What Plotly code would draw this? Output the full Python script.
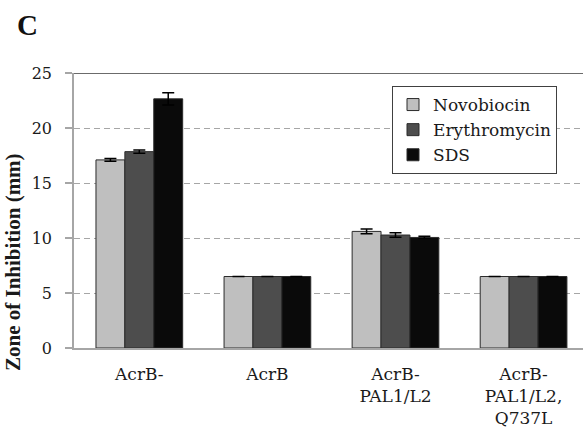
import plotly.graph_objects as go

# Strains tested (x categories) and zone-of-inhibition means / errors (mm)
strains = ["AcrB-", "AcrB", "AcrB-<br>PAL1/L2", "AcrB-<br>PAL1/L2,<br>Q737L"]
novobiocin = [17.1, 6.5, 10.6, 6.5]
novobiocin_err = [0.12, 0.0, 0.22, 0.0]
erythromycin = [17.85, 6.5, 10.27, 6.5]
erythromycin_err = [0.15, 0.0, 0.2, 0.0]
sds = [22.65, 6.5, 10.05, 6.5]
sds_err = [0.55, 0.0, 0.1, 0.0]

serif = "Liberation Serif"
text_serif = "DejaVu Serif"

series = [
    ("Novobiocin", novobiocin, novobiocin_err, "#BFBFBF"),
    ("Erythromycin", erythromycin, erythromycin_err, "#4D4D4D"),
    ("SDS", sds, sds_err, "#0A0A0A"),
]

fig = go.Figure()
for name, vals, errs, color in series:
    fig.add_trace(go.Bar(
        name=name,
        x=strains,
        y=vals,
        legendgroup=name,
        marker=dict(color=color, line=dict(color="#2B2B2B", width=1)),
        error_y=dict(type="data", array=errs, visible=True,
                     color="#000000", thickness=1.5, width=6),
    ))

fig.update_layout(
    width=583,
    height=434,
    margin=dict(l=74, r=0, t=73, b=86),
    paper_bgcolor="white",
    plot_bgcolor="white",
    barmode="group",
    bargap=0.323,
    bargroupgap=0,
    font=dict(family=text_serif, size=17, color="#1A1A1A"),
    showlegend=True,
    legend=dict(
        x=(392 - 74) / 509, y=(348 - 86) / 275, xref="paper", yref="paper",
        xanchor="left", yanchor="top",
        bordercolor="#404040", borderwidth=1, bgcolor="white",
        font=dict(family=text_serif, size=17, color="#1A1A1A"),
        tracegroupgap=0,
        itemwidth=30,
    ),
)

fig.update_xaxes(
    range=[-0.51, 3.464],
    showline=True, linecolor="#A6A6A6", linewidth=1.5,
    ticks="", showgrid=False,
    tickfont=dict(family=text_serif, size=17, color="#1A1A1A"),
    ticklabelstandoff=10,
)

fig.update_yaxes(
    range=[0, 25],
    tickvals=[0, 5, 10, 15, 20, 25],
    showline=True, linecolor="#A6A6A6", linewidth=1.5,
    ticks="outside", ticklen=7, tickcolor="#A6A6A6", tickwidth=1.5,
    ticklabelstandoff=10,
    showgrid=True, gridcolor="#A6A6A6", gridwidth=1, griddash="6px,4px",
    zeroline=False,
    tickfont=dict(family=text_serif, size=16, color="#1A1A1A"),
)

# y-axis title, placed a little below the middle of the axis
fig.add_annotation(text="<b>Zone of Inhibition (mm)</b>", xref="paper", yref="paper",
                   x=(13 - 74) / 509, y=(348 - 262) / 275,
                   xanchor="center", yanchor="middle", textangle=-90,
                   showarrow=False,
                   font=dict(family=serif, size=21, color="#1A1A1A"))

# dark frame line along the top of the plot area
fig.add_shape(type="line", xref="paper", yref="y", x0=0, x1=1, y0=25, y1=25,
              line=dict(color="#3A3A3A", width=1.5))

# panel letter
fig.add_annotation(text="<b>C</b>", xref="paper", yref="paper",
                   x=-59 / 509, y=1 + 48 / 275,
                   xanchor="left", yanchor="middle", showarrow=False,
                   font=dict(family=serif, size=29, color="#111111"))

fig.write_html("out.html")
